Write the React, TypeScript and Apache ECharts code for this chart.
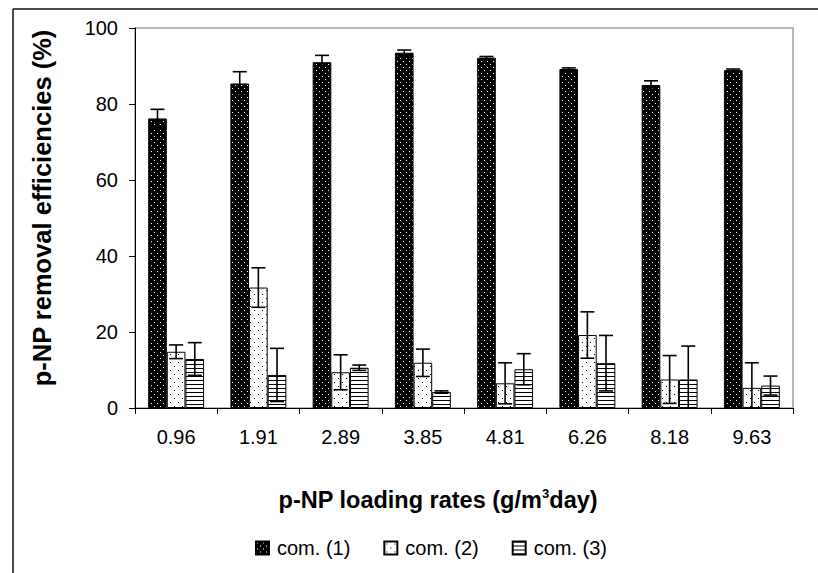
import React, { useEffect, useRef } from 'react';
import * as echarts from 'echarts';

const categories = ['0.96', '1.91', '2.89', '3.85', '4.81', '6.26', '8.18', '9.63'];
const seriesNames = ['com. (1)', 'com. (2)', 'com. (3)'];
const com1 = [76.2, 85.4, 91.0, 93.5, 92.2, 89.2, 85.0, 88.9];
const com1Err = [2.4, 3.1, 1.8, 0.7, 0.3, 0.3, 1.1, 0.3];
const com2 = [14.8, 31.7, 9.4, 11.9, 6.5, 19.2, 7.5, 5.3];
const com2Err = [1.8, 5.2, 4.6, 3.6, 5.4, 6.1, 6.3, 6.6];
const com3 = [12.9, 8.7, 10.6, 4.2, 10.2, 11.8, 7.5, 5.9];
const com3Err = [4.3, 7.0, 0.7, 0.3, 4.1, 7.3, 8.8, 2.5];
const yTicks = { min: 0, max: 100, interval: 20 };

const FONT = 'Arial, "Liberation Sans", sans-serif';
const GAP = 0.32;

function makeTile(w: number, h: number, bg: string, fg: string, rects: number[][]) {
  const c = document.createElement('canvas');
  c.width = w;
  c.height = h;
  const ctx = c.getContext('2d')!;
  ctx.fillStyle = bg;
  ctx.fillRect(0, 0, w, h);
  ctx.fillStyle = fg;
  rects.forEach(([x, y, rw, rh]) => ctx.fillRect(x, y, rw, rh));
  return { image: c.toDataURL(), repeat: 'repeat', imageWidth: w, imageHeight: h } as any;
}

function errSeries(idx: number, vals: number[], errs: number[]) {
  return {
    type: 'custom',
    name: 'err' + idx,
    z: 10,
    silent: true,
    data: vals.map((v, i) => [i, v, errs[i]]),
    encode: { x: 0, y: 1 },
    renderItem: (params: any, api: any) => {
      const i = api.value(0);
      const v = api.value(1);
      const e = api.value(2);
      const band = api.size([1, 0])[0];
      const barW = (band * (1 - GAP)) / 3;
      const cx = api.coord([i, v])[0] + (idx - 1) * barW;
      const yTop = api.coord([i, v + e])[1];
      const lo = v - e;
      const yBot = api.coord([i, Math.max(lo, 0)])[1];
      const cap = 7;
      const st = { stroke: '#000', lineWidth: 1.6 };
      const children: any[] = [
        { type: 'line', shape: { x1: cx, y1: yTop, x2: cx, y2: yBot }, style: st },
        { type: 'line', shape: { x1: cx - cap, y1: yTop, x2: cx + cap, y2: yTop }, style: st },
      ];
      if (lo >= 0) {
        children.push({ type: 'line', shape: { x1: cx - cap, y1: yBot, x2: cx + cap, y2: yBot }, style: st });
      }
      return { type: 'group', children };
    },
  };
}

export default function App() {
  const ref = useRef<HTMLDivElement>(null);
  useEffect(() => {
    if (!ref.current) return;
    const chart = echarts.init(ref.current, null, { renderer: 'svg' });
    const pat1 = makeTile(6, 6, '#000', '#fff', [[1, 1, 1, 1], [4, 4, 1, 1]]);
    const pat2 = makeTile(8, 8, '#fff', '#000', [[2, 2, 1, 1], [6, 6, 1, 1]]);
    const pat3 = makeTile(4, 4, '#fff', '#000', [[0, 0, 4, 1]]);
    const pats = [pat1, pat2, pat3];
    const vals = [com1, com2, com3];
    const errs = [com1Err, com2Err, com3Err];
    const bars = vals.map((v, k) => ({
      type: 'bar',
      name: seriesNames[k],
      data: v,
      barGap: '0%',
      barCategoryGap: GAP * 100 + '%',
      itemStyle: { color: pats[k], borderColor: '#000', borderWidth: 1 },
    }));
    chart.setOption({
      animation: false,
      backgroundColor: '#fff',
      textStyle: { fontFamily: FONT },
      grid: {
        left: 135, top: 28, width: 658, height: 380,
        show: true, borderColor: '#a0a0a0', borderWidth: 1.5, backgroundColor: '#fff',
      },
      legend: {
        data: seriesNames,
        left: 255,
        top: 538,
        padding: 0,
        icon: 'rect',
        itemWidth: 13,
        itemHeight: 13,
        itemGap: 33,
        textStyle: { fontSize: 20, color: '#000', fontFamily: FONT, padding: [0, 0, 0, 3] },
      },
      xAxis: {
        type: 'category',
        data: categories,
        axisLine: { lineStyle: { color: '#000', width: 1 } },
        axisTick: { show: true, length: 6, lineStyle: { color: '#000' } },
        axisLabel: { fontSize: 20, color: '#000', margin: 19, fontFamily: FONT },
      },
      yAxis: {
        type: 'value',
        min: yTicks.min,
        max: yTicks.max,
        interval: yTicks.interval,
        axisLine: { show: true, lineStyle: { color: '#000', width: 1 } },
        axisTick: { show: true, length: 6, lineStyle: { color: '#000' } },
        axisLabel: { fontSize: 20, color: '#000', margin: 17, fontFamily: FONT },
        splitLine: { show: false },
      },
      graphic: [
        { type: 'line', shape: { x1: 13, y1: 9, x2: 830, y2: 9 }, style: { stroke: '#111', lineWidth: 1.5 }, z: 100 },
        { type: 'line', shape: { x1: 13, y1: 9, x2: 13, y2: 600 }, style: { stroke: '#111', lineWidth: 1.5 }, z: 100 },
        {
          type: 'text',
          x: 42,
          y: 208,
          rotation: Math.PI / 2,
          style: {
            text: 'p-NP removal efficiencies (%)',
            fontSize: 25.5,
            fontWeight: 'bold',
            fill: '#000',
            fontFamily: FONT,
            textAlign: 'center',
            textVerticalAlign: 'middle',
          },
        },
        {
          type: 'text',
          x: 438,
          y: 500,
          style: {
            text: '{b|p-NP loading rates (g/m}{s|3}{b|day)}',
            textAlign: 'center',
            textVerticalAlign: 'middle',
            rich: {
              b: { fontSize: 23.5, fontWeight: 'bold', fill: '#000', fontFamily: FONT, lineHeight: 26 },
              s: { fontSize: 13, fontWeight: 'bold', fill: '#000', fontFamily: FONT, verticalAlign: 'top', lineHeight: 14 },
            },
          },
        },
      ],
      series: [...bars, ...vals.map((v, k) => errSeries(k, v, errs[k]))],
    });
    return () => chart.dispose();
  }, []);
  return <div ref={ref} style={{ position: 'fixed', left: 0, top: 0, width: 818, height: 573 }} />;
}
